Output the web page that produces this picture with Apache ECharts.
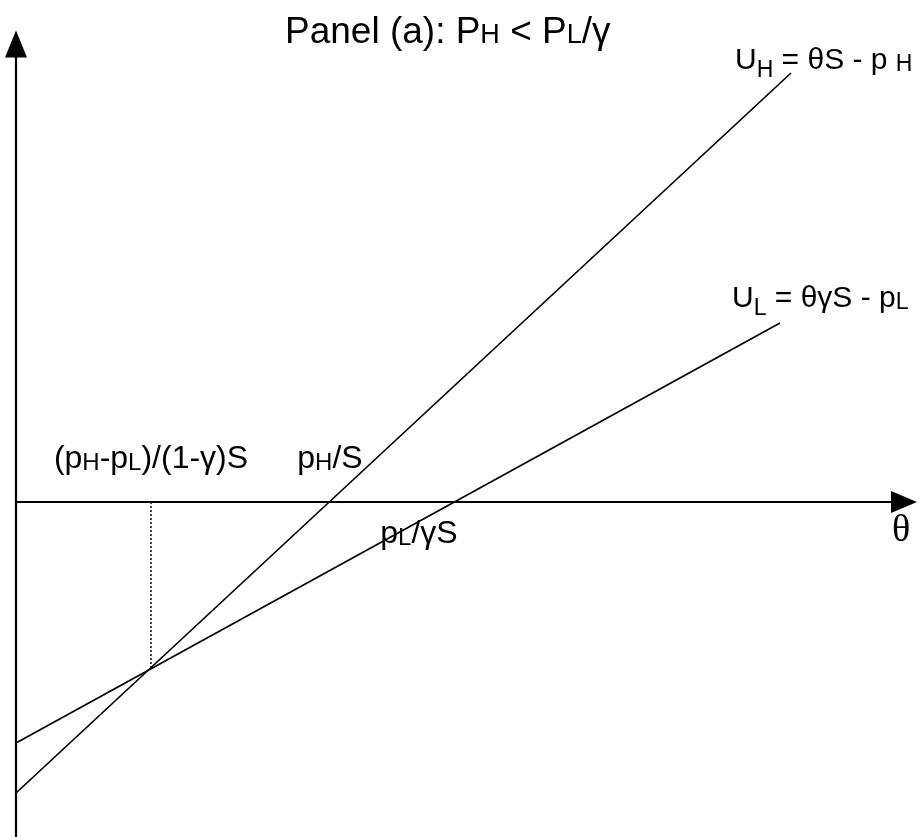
<!DOCTYPE html>
<html>
<head>
<meta charset="utf-8">
<script src="https://cdn.jsdelivr.net/npm/echarts@6/dist/echarts.min.js"></script>
<style>html,body{margin:0;padding:0;background:#fff}#c{width:919px;height:837px}</style>
</head>
<body>
<div id="c"></div>
<script>
// Axis extents (θ horizontal, utility vertical)
const thetaMin = 0, thetaMax = 8.88;
const uMin = -3.35, uMax = 4.58;

// U_H = θS - p_H (endpoints)
const uhTheta = [0, 7.75];
const uhU = [-2.91, 4.29];

// U_L = θγS - p_L
const ulTheta = [0, 7.64];
const ulU = [-2.41, 1.79];

// Intersection of the two lines (dotted drop line)
const crossTheta = 1.35;
const crossU = -1.66;

// Key θ values on the horizontal axis: (pH-pL)/(1-γ)S, pH/S, pL/γS
const keyThetas = [1.35, 3.13, 4.38];
const keyLabels = [
  '{a|(p}{s|H}{a|-p}{s|L}{a|)/(1-γ)S}',
  '{a|p}{s|H}{a|/S}',
  '{a|p}{s|L}{a|/γS}'
];
const lineLabels = [
  '{a|U}{t|H}{a| = θS - p }{s|H}',
  '{a|U}{t|L}{a| = θγS - p}{s|L}'
];
const axisName = 'θ';
const titleText = '{a|Panel (a): P}{s|H}{a| < P}{s|L}{a|/γ}';

const FONT = '"Liberation Sans", Arial, sans-serif';
function mkRich(big, small, lh) {
  return {
    a: {fontSize: big, fontFamily: FONT, color: '#000', verticalAlign: 'bottom', lineHeight: lh, textBorderWidth: 0},
    s: {fontSize: small, fontFamily: FONT, color: '#000', verticalAlign: 'bottom', lineHeight: lh, textBorderWidth: 0},
    t: {fontSize: small, fontFamily: FONT, color: '#000', verticalAlign: 'bottom', lineHeight: lh, padding: [0, 0, -6, 0], textBorderWidth: 0}
  };
}
const keyRich = mkRich(32, 24, 38);
const lineRich = mkRich(30, 23, 36);
const titleRich = {
  a: {fontSize: 37, fontWeight: 'normal', fontFamily: FONT, color: '#000', verticalAlign: 'bottom', lineHeight: 42},
  s: {fontSize: 27, fontWeight: 'normal', fontFamily: FONT, color: '#000', verticalAlign: 'bottom', lineHeight: 42, padding: [0, 0, 2, 0]}
};

const keyOffsets = [[0, -46], [1, -46], [-35, 29]];
const lineOffsets = [[-56, -15], [-48, -27]];

const baseLabel = {show: true, color: '#000', opacity: 1, textBorderWidth: 0, textShadowBlur: 0, position: 'inside', verticalAlign: 'middle'};
const anchorData = [];
keyThetas.forEach((t, i) => {
  anchorData.push({
    value: [t, 0],
    label: Object.assign({}, baseLabel, {formatter: keyLabels[i], rich: keyRich, align: 'center', offset: keyOffsets[i]})
  });
});
[[uhTheta, uhU], [ulTheta, ulU]].forEach((ln, i) => {
  anchorData.push({
    value: [ln[0][1], ln[1][1]],
    label: Object.assign({}, baseLabel, {formatter: lineLabels[i], rich: lineRich, align: 'left', offset: lineOffsets[i]})
  });
});
// axis name θ, placed below the end of the horizontal axis
anchorData.push({
  value: [thetaMax, 0],
  label: Object.assign({}, baseLabel, {formatter: axisName, align: 'center', offset: [-3, 29],
    fontFamily: '"Liberation Serif", "Times New Roman", serif', fontSize: 38})
});

const chart = echarts.init(document.getElementById('c'), null, {renderer: 'canvas'});
chart.setOption({
  animation: false,
  backgroundColor: '#fff',
  title: {
    text: titleText,
    left: 280, top: 4,
    textStyle: {rich: titleRich, fontWeight: 'normal'}
  },
  grid: {left: 16, right: 15, top: 44, bottom: 0, containLabel: false},
  xAxis: {
    type: 'value', min: thetaMin, max: thetaMax,
    axisLine: {onZero: true, lineStyle: {color: '#000', width: 2.2}, symbol: ['none', 'triangle'], symbolSize: [22, 26]},
    axisTick: {show: false}, axisLabel: {show: false}, splitLine: {show: false}
  },
  yAxis: {
    type: 'value', min: uMin, max: uMax,
    axisLine: {onZero: false, lineStyle: {color: '#000', width: 2.2}, symbol: ['none', 'triangle'], symbolSize: [22, 27]},
    axisTick: {show: false}, axisLabel: {show: false}, splitLine: {show: false}
  },
  series: [
    {
      type: 'line', name: 'U_H', symbol: 'none', silent: true,
      lineStyle: {color: '#000', width: 1.7},
      data: uhTheta.map((t, i) => [t, uhU[i]])
    },
    {
      type: 'line', name: 'U_L', symbol: 'none', silent: true,
      lineStyle: {color: '#000', width: 1.7},
      data: ulTheta.map((t, i) => [t, ulU[i]])
    },
    {
      type: 'line', name: 'drop', symbol: 'none', silent: true,
      lineStyle: {color: '#000', width: 1.4, type: [2, 2]},
      data: [[crossTheta, 0], [crossTheta, crossU]]
    },
    {
      type: 'scatter', name: 'labels', symbolSize: 0, silent: true,
      itemStyle: {color: 'rgba(0,0,0,0)', opacity: 1},
      data: anchorData
    }
  ]
});
</script>
</body>
</html>
